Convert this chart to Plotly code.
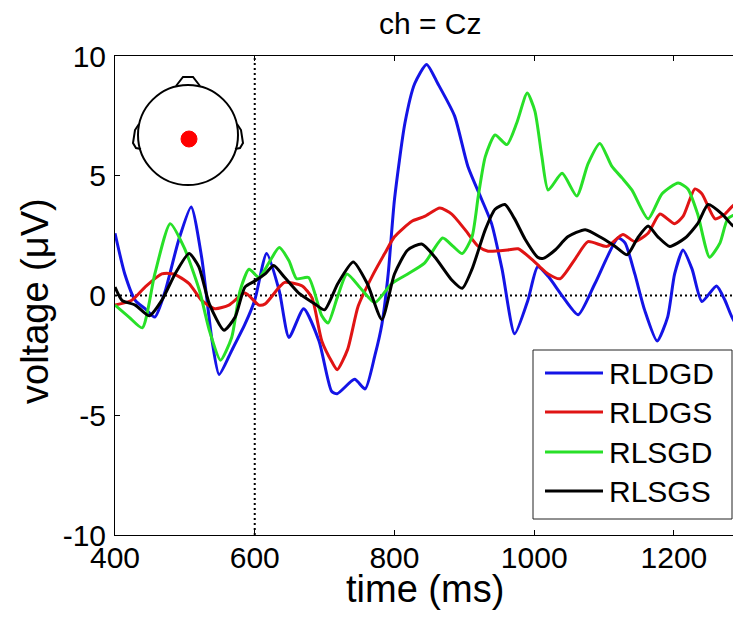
import plotly.graph_objects as go

# ---------------- data ----------------
SERIES_NAMES = ["RLDGD", "RLDGS", "RLSGD", "RLSGS"]
SERIES_COLORS = ["#1414e6", "#e01414", "#28e028", "#000000"]

t_rldgd = [400, 414, 429, 443, 457, 472, 491, 509, 524, 539, 549, 567, 586, 600, 617, 635, 649, 670, 692,
           710, 718, 743, 758, 772, 782, 791, 800, 815, 829, 846, 862, 886, 905, 925, 939, 954, 972, 991,
           1005, 1020, 1041, 1063, 1087, 1120, 1130, 1144, 1158, 1176, 1191, 1201, 1213, 1226, 1240, 1261,
           1273, 1287, 1296]
v_rldgd = [2.6, 0.9, -0.2, -0.55, -0.9, 0.2, 2.3, 3.7, 1.6, -1.9, -3.3, -2.3, -1.2, -0.2, 1.75, 0.2, -1.75,
           -0.55, -1.9, -4.0, -4.1, -3.5, -3.9, -2.5, -1.2, 0.9, 4.0, 7.2, 8.85, 9.65, 8.85, 7.5, 5.4, 4.0,
           3.0, 1.1, -1.6, -0.2, 1.2, 0.8, -0.05, -0.8, 0.5, 2.4, 2.2, 0.9, -0.6, -1.9, -0.9, 0.9, 1.9, 1.1,
           -0.25, 0.4, -0.2, -1.1, -1.0]

t_rldgs = [400, 424, 443, 467, 484, 506, 524, 543, 563, 586, 606, 615, 635, 643, 668, 682, 696, 711, 718,
           733, 748, 768, 786, 800, 825, 843, 865, 882, 901, 920, 934, 962, 977, 997, 1008, 1020, 1037, 1058,
           1077, 1104, 1127, 1144, 1163, 1180, 1201, 1213, 1230, 1240, 1259, 1273, 1287, 1296]
v_rldgs = [-0.4, -0.2, 0.35, 0.9, 0.9, 0.5, -0.2, -0.55, -0.4, 0.1, -0.4, -0.35, 0.35, 0.55, 0.4, -0.1,
           -1.9, -2.8, -3.1, -2.25, -0.45, 0.8, 1.75, 2.45, 3.1, 3.3, 3.65, 3.4, 2.75, 2.05, 1.85, 1.9, 1.95,
           1.5, 1.2, 0.9, 0.7, 1.5, 2.25, 2.05, 2.55, 2.25, 2.6, 3.4, 3.0, 3.3, 4.45, 4.25, 3.2, 3.4, 3.8, 3.6]

t_rlsgd = [400, 420, 439, 457, 479, 499, 521, 535, 551, 567, 579, 592, 606, 620, 635, 649, 660, 677, 696,
           705, 718, 732, 753, 772, 796, 819, 843, 869, 884, 897, 911, 920, 930, 944, 961, 975, 990, 1001,
           1011, 1020, 1040, 1061, 1077, 1094, 1111, 1126, 1140, 1163, 1183, 1206, 1220, 1234, 1251, 1266,
           1277, 1296]
v_rlsgd = [-0.4, -0.9, -1.35, 0.9, 3.0, 2.0, 0.2, -1.45, -2.7, -1.75, 0.2, 1.1, 0.75, 1.35, 2.0, 1.45, 0.7,
           0.75, -0.85, -1.15, -0.1, 0.9, 0.25, -0.3, 0.5, 0.9, 1.35, 2.4, 2.05, 1.75, 2.45, 4.15, 5.8, 6.7,
           6.3, 7.2, 8.45, 7.7, 5.8, 4.4, 5.1, 4.15, 5.5, 6.35, 5.4, 4.9, 4.4, 3.2, 4.25, 4.7, 4.45, 3.4, 1.6,
           2.2, 3.2, 3.5]

t_rlsgs = [400, 410, 429, 449, 467, 486, 506, 520, 535, 556, 572, 586, 600, 615, 627, 643, 663, 686, 700,
           719, 741, 761, 782, 800, 819, 839, 858, 882, 897, 911, 930, 944, 958, 972, 987, 1005, 1013, 1030,
           1048, 1073, 1097, 1116, 1133, 1148, 1163, 1177, 1194, 1216, 1234, 1249, 1269, 1283, 1296]
v_rlsgs = [0.35, -0.2, -0.4, -0.85, -0.2, 0.9, 1.75, 1.2, -0.35, -1.45, -0.9, 0.35, 0.6, 0.9, 1.25, 0.75,
           0.1, -0.35, -0.6, 0.5, 1.4, 0.5, -1.0, 0.9, 1.9, 2.15, 1.6, 0.65, 0.3, 1.1, 2.75, 3.6, 3.8, 3.2,
           2.35, 1.6, 1.55, 1.9, 2.45, 2.75, 2.4, 2.05, 1.7, 2.4, 2.9, 2.45, 2.05, 2.4, 3.0, 3.8, 3.4, 2.95,
           2.7]

X_TICKS = [400, 600, 800, 1000, 1200]
Y_TICKS = [-10, -5, 0, 5, 10]
X_RANGE = [400, 1296]
Y_RANGE = [-10, 10]
STIMULUS_TIME = 600
TITLE = "ch = Cz"
X_LABEL = "time (ms)"
Y_LABEL = "voltage (\u03bcV)"

# ---------------- layout constants ----------------
# the page body has an 8px margin, so the figure is placed at (8, 8) of the window
OFF = 8
W, H = 741 - OFF, 621 - OFF
ML, MR, MT, MB = 115 - OFF, 0, 56 - OFF, 621 - 535
PW, PH = W - ML - MR, H - MT - MB
FONT = "Liberation Sans, Arial, Helvetica, sans-serif"


def px(x):
    """window pixel x -> paper coordinate"""
    return (x - OFF - ML) / PW


def py(y):
    """window pixel y -> paper coordinate"""
    return (MT + PH - (y - OFF)) / PH


fig = go.Figure()
all_t = [t_rldgd, t_rldgs, t_rlsgd, t_rlsgs]
all_v = [v_rldgd, v_rldgs, v_rlsgd, v_rlsgs]
for name, color, t, v in zip(SERIES_NAMES, SERIES_COLORS, all_t, all_v):
    fig.add_trace(go.Scatter(x=t, y=v, mode="lines", name=name, showlegend=False,
                             line=dict(color=color, width=3, shape="spline", smoothing=0.6)))

shapes = []
# dotted reference lines
shapes.append(dict(type="line", xref="x", yref="y", x0=X_RANGE[0], x1=X_RANGE[1], y0=0, y1=0,
                   line=dict(color="black", width=2, dash="2px,3px"), layer="below"))
shapes.append(dict(type="line", xref="x", yref="y", x0=STIMULUS_TIME, x1=STIMULUS_TIME,
                   y0=Y_RANGE[0], y1=Y_RANGE[1],
                   line=dict(color="black", width=2, dash="2px,3px"), layer="below"))

# head inset (topographic marker)
hc_x, hc_y, hr = 188, 135, 50
shapes.append(dict(type="circle", xref="paper", yref="paper",
                   x0=px(hc_x - hr), x1=px(hc_x + hr), y0=py(hc_y + hr), y1=py(hc_y - hr),
                   line=dict(color="black", width=2)))
nose = [(176, 86), (183, 77), (193, 77), (200, 86)]
lear = [(139, 124), (135, 130), (133, 143), (136, 148), (141, 149)]
rear = [(237, 124), (241, 130), (243, 143), (240, 148), (235, 149)]
for pts in (nose, lear, rear):
    path = "M " + " L ".join(f"{px(a):.5f},{py(b):.5f}" for a, b in pts)
    shapes.append(dict(type="path", xref="paper", yref="paper", path=path,
                       line=dict(color="black", width=2)))
dot_x, dot_y, dot_r = 189, 139, 8
shapes.append(dict(type="circle", xref="paper", yref="paper",
                   x0=px(dot_x - dot_r), x1=px(dot_x + dot_r), y0=py(dot_y + dot_r), y1=py(dot_y - dot_r),
                   fillcolor="#ff0000", line=dict(color="#ff0000", width=1)))

# legend box (MATLAB style)
lb_x0, lb_x1, lb_y0, lb_y1 = 533, 732, 350, 519
shapes.append(dict(type="rect", xref="paper", yref="paper",
                   x0=px(lb_x0), x1=px(lb_x1), y0=py(lb_y1), y1=py(lb_y0),
                   fillcolor="white", line=dict(color="#222222", width=1)))
row_y = [373, 412, 452, 491]
annotations = []
for name, color, ry in zip(SERIES_NAMES, SERIES_COLORS, row_y):
    shapes.append(dict(type="line", xref="paper", yref="paper", x0=px(545), x1=px(603),
                       y0=py(ry), y1=py(ry), line=dict(color=color, width=3)))
    annotations.append(dict(text=name, xref="paper", yref="paper", x=px(607), y=py(ry),
                            xanchor="left", yanchor="middle", showarrow=False,
                            font=dict(family=FONT, size=30, color="black")))

annotations.append(dict(text=TITLE, xref="paper", yref="paper", x=px(430), y=py(23),
                        xanchor="center", yanchor="middle", showarrow=False,
                        font=dict(family=FONT, size=30, color="black")))
annotations.append(dict(text=X_LABEL, xref="paper", yref="paper", x=px(425), y=py(589),
                        xanchor="center", yanchor="middle", showarrow=False,
                        font=dict(family=FONT, size=38, color="black")))
annotations.append(dict(text=Y_LABEL, xref="paper", yref="paper", x=px(35), y=py(301),
                        xanchor="center", yanchor="middle", showarrow=False, textangle=-90,
                        font=dict(family=FONT, size=38, color="black")))

axis_common = dict(showgrid=False, zeroline=False, showline=True, linecolor="black", linewidth=1,
                   mirror="ticks", ticks="inside", ticklen=5, tickcolor="black", tickwidth=1,
                   tickfont=dict(family=FONT, size=30, color="black"))

fig.update_layout(
    width=W, height=H,
    margin=dict(l=ML, r=MR, t=MT, b=MB, autoexpand=False),
    paper_bgcolor="white", plot_bgcolor="white",
    showlegend=False,
    shapes=shapes, annotations=annotations,
    xaxis=dict(range=X_RANGE, tickvals=X_TICKS, ticktext=[str(v) for v in X_TICKS],
               ticklabelstandoff=-4, **axis_common),
    yaxis=dict(range=Y_RANGE, tickvals=Y_TICKS, ticktext=[str(v) for v in Y_TICKS],
               ticklabelstandoff=2, **axis_common),
)

fig.write_html("out.html")
